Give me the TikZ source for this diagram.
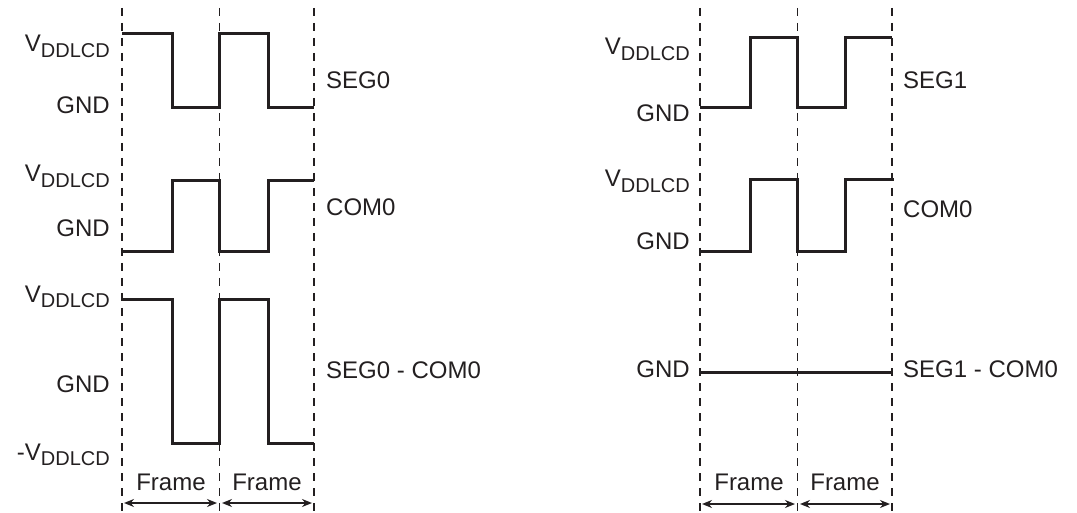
\documentclass[tikz,border=0pt]{standalone}
\usepackage{fontspec}
\setmainfont{Liberation Sans}
\usetikzlibrary{arrows.meta,positioning}
\definecolor{InkGrey}{HTML}{231F20}
\newcommand{\vdd}{V\raisebox{-5.5pt}{\fontsize{20}{20}\selectfont DDLCD}}
\tikzset{
  wave/.style={InkGrey,line width=3pt,line join=miter},
  gridline/.style={InkGrey,line width=1.4pt,dash pattern=on 8pt off 7pt},
  lvl/.style={anchor=base east,inner sep=0pt,text=InkGrey},
  sig/.style={anchor=base west,inner sep=0pt,text=InkGrey},
  frm/.style={InkGrey,line width=1.5pt,{Stealth[length=10pt,width=8pt]}-{Stealth[length=10pt,width=8pt]}}
}

\begin{document}
\begin{tikzpicture}[x=1pt,y=-1pt,font=\fontsize{24}{28}\selectfont]
        \useasboundingbox (0,0) rectangle (1077,513);
        % frame boundaries
        \foreach \xx in {122,219.5,314,700,797.5,892}
          \draw[gridline] (\xx,8) -- (\xx,513);
        % left panel
        \draw[wave] (122,34) -- (172,34) -- (172,108) -- (219.5,108) -- (219.5,34) -- (268,34) -- (268,108) -- (314,108);
        \draw[wave] (122,252) -- (172,252) -- (172,181) -- (219.5,181) -- (219.5,252) -- (268,252) -- (268,181) -- (314,181);
        \draw[wave] (122,300) -- (172,300) -- (172,443) -- (219.5,443) -- (219.5,300) -- (268,300) -- (268,443) -- (314,443);
        \node[lvl] (lvdd0) at (110,52) {\vdd};
        \node[lvl] (lgnd0) at (110,114) {GND};
        \node[lvl] (lvdd1) at (110,182) {\vdd};
        \node[lvl] (lgnd1) at (110,237) {GND};
        \node[lvl] (lvdd2) at (110,302) {\vdd};
        \node[lvl] (lgnd2) at (110,392) {GND};
        \node[lvl] (lvdd3) at (110,460) {-\vdd};
        \node[sig] (seg0) at (326,89) {SEG0};
        \node[sig] (com0l) at (326,216) {COM0};
        \node[sig] (diff0) at (326,378) {SEG0 - COM0};
        % right panel
        \draw[wave] (700,108) -- (750,108) -- (750,38) -- (797.5,38) -- (797.5,108) -- (845,108) -- (845,38) -- (892,38);
        \draw[wave] (700,252) -- (750,252) -- (750,180) -- (797.5,180) -- (797.5,252) -- (845,252) -- (845,180) -- (894,180);
        \draw[wave] (700,372) -- (892,372);
        \node[lvl] (rvdd0) at (690,55) {\vdd};
        \node[lvl] (rgnd0) at (690,122) {GND};
        \node[lvl] (rvdd1) at (690,187) {\vdd};
        \node[lvl] (rgnd1) at (690,250) {GND};
        \node[lvl] (rgnd2) at (690,377) {GND};
        \node[sig] (seg1) at (903,89) {SEG1};
        \node[sig] (com0r) at (903,218) {COM0};
        \node[sig] (diff1) at (903,377) {SEG1 - COM0};
        % frame arrows
        \node[anchor=base,inner sep=0pt,text=InkGrey] (lf1) at (171,490) {Frame};
        \node[anchor=base,inner sep=0pt,text=InkGrey] (lf2) at (267,490) {Frame};
        \node[anchor=base,inner sep=0pt,text=InkGrey] (rf1) at (749,490) {Frame};
        \node[anchor=base,inner sep=0pt,text=InkGrey] (rf2) at (845,490) {Frame};
        \coordinate (la) at (124,503);
        \coordinate (lb) at (217,503);
        \coordinate (lc) at (222,503);
        \coordinate (ld) at (312,503);
        \coordinate (ra) at (702,504);
        \coordinate (rb) at (795,504);
        \coordinate (rc) at (800,504);
        \coordinate (rd) at (890,504);
        \draw[frm] (la) -- (lb);
        \draw[frm] (lc) -- (ld);
        \draw[frm] (ra) -- (rb);
        \draw[frm] (rc) -- (rd);
\end{tikzpicture}
\end{document}
